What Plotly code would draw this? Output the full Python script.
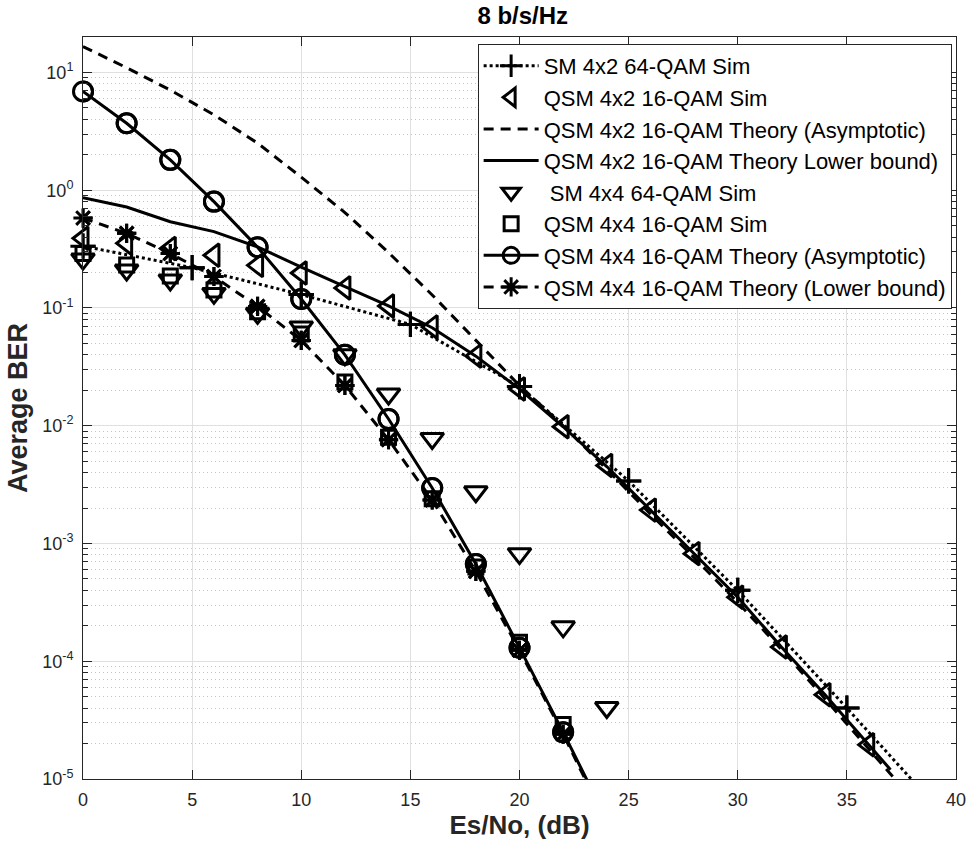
import plotly.graph_objects as go

# ---- data -------------------------------------------------------------
snr_5db = [0, 5, 10, 15, 20, 25, 30, 35, 40]
sm42_sim = [0.335, 0.22, 0.13, 0.0725, 0.0215, 3.4e-3, 4.0e-4, 4.0e-5, 3.8e-6]

snr_qsm42_sim = [0, 2, 4, 6, 8, 10, 12, 14, 16, 18, 20, 22, 24, 26, 28, 30, 32, 34, 36]
qsm42_sim = [0.39, 0.355, 0.32, 0.28, 0.23, 0.198, 0.148, 0.104, 0.069, 0.039,
             0.0205, 0.0098, 4.6e-3, 1.92e-3, 8.2e-4, 3.5e-4, 1.32e-4, 5.2e-5, 1.95e-5]

snr_qsm42_asym = [0, 2, 4, 6, 8, 10, 12, 14, 16, 18, 20, 22, 24, 26, 28, 30, 32, 34, 36, 38]
qsm42_asym = [16.6, 10.96, 7.08, 4.37, 2.51, 1.29, 0.646, 0.295, 0.129, 0.0537,
              0.0219, 0.0100, 4.27e-3, 1.78e-3, 7.59e-4, 3.16e-4, 1.26e-4, 4.79e-5, 1.78e-5, 6.76e-6]

snr_qsm42_lb = [0, 2, 4, 6, 8, 10, 12, 14, 16, 18, 20, 22, 24, 26, 28, 30, 32, 34, 36, 37]
qsm42_lb = [0.865, 0.72, 0.54, 0.445, 0.33, 0.222, 0.152, 0.104, 0.068, 0.039,
            0.0205, 0.0098, 4.5e-3, 1.92e-3, 8.2e-4, 3.5e-4, 1.32e-4, 5.2e-5, 1.95e-5, 1.2e-5]

snr_sm44 = [0, 2, 4, 6, 8, 10, 12, 14, 16, 18, 20, 22, 24]
sm44_sim = [0.26, 0.21, 0.173, 0.133, 0.090, 0.069, 0.040, 0.0186, 7.8e-3, 2.75e-3,
            8.2e-4, 1.96e-4, 4.05e-5]

snr_qsm44_sim = [0, 2, 4, 6, 8, 10, 12, 14, 16, 18, 20, 22]
qsm44_sim = [0.29, 0.232, 0.187, 0.142, 0.093, 0.06, 0.0235, 8.0e-3, 2.4e-3, 6.3e-4,
             1.45e-4, 2.9e-5]

snr_qsm44_th = [0, 2, 4, 6, 8, 10, 12, 14, 16, 18, 20, 22, 24]
qsm44_asym = [6.9, 3.7, 1.81, 0.80, 0.328, 0.119, 0.040, 0.0114, 2.96e-3, 6.7e-4,
              1.3e-4, 2.5e-5, 4.5e-6]
qsm44_lb = [0.58, 0.43, 0.29, 0.185, 0.103, 0.053, 0.022, 7.6e-3, 2.34e-3, 5.8e-4,
            1.24e-4, 2.4e-5, 4.2e-6]

x_ticks = [0, 5, 10, 15, 20, 25, 30, 35, 40]
y_ticks = [1e-5, 1e-4, 1e-3, 1e-2, 1e-1, 1e0, 1e1]
y_ticktext = ["10<sup>-5</sup>", "10<sup>-4</sup>", "10<sup>-3</sup>", "10<sup>-2</sup>",
              "10<sup>-1</sup>", "10<sup>0</sup>", "10<sup>1</sup>"]
y_minor = [m * 10.0 ** k for k in range(-5, 1) for m in range(2, 10)]

X_RANGE = [0, 40]
Y_MIN = 1e-5

# ---- styling ----------------------------------------------------------
FONT = "Arial, 'Liberation Sans', Helvetica, sans-serif"
INK = "#262626"
LW = 3
DOT = "3px,3px"
DASH = "10px,7px"
MLW = 3


def mk(symbol, size):
    return dict(symbol=symbol, size=size, color="black",
                line=dict(color="black", width=MLW))


def visible(xs, ys):
    """Points that sit inside the axes box (markers are drawn unclipped)."""
    pts = [(a, b) for a, b in zip(xs, ys) if X_RANGE[0] <= a <= X_RANGE[1] and b >= Y_MIN]
    return [p[0] for p in pts], [p[1] for p in pts]


fig = go.Figure()


def add_line(xs, ys, name, dash, marker=None):
    fig.add_trace(go.Scatter(
        x=xs, y=ys, mode="lines+markers" if marker else "lines", name=name,
        line=dict(color="black", width=LW, dash=dash),
        marker=marker, cliponaxis=True))
    if marker:
        vx, vy = visible(xs, ys)
        fig.add_trace(go.Scatter(
            x=vx, y=vy, mode="markers", marker=marker, showlegend=False,
            cliponaxis=False, hoverinfo="skip"))


def add_markers(xs, ys, name, marker):
    fig.add_trace(go.Scatter(
        x=xs, y=ys, mode="markers", name=name, marker=marker, cliponaxis=False))


add_line(snr_5db, sm42_sim, "SM 4x2 64-QAM Sim", DOT, mk("cross-thin-open", 18))
add_markers(snr_qsm42_sim, qsm42_sim, "QSM 4x2 16-QAM Sim", mk("triangle-left-open", 20))
add_line(snr_qsm42_asym, qsm42_asym, "QSM 4x2 16-QAM Theory (Asymptotic)", DASH)
add_line(snr_qsm42_lb, qsm42_lb, "QSM 4x2 16-QAM Theory Lower bound)", "solid")
add_markers(snr_sm44, sm44_sim, " SM 4x4 64-QAM Sim", mk("triangle-down-open", 20))
add_markers(snr_qsm44_sim, qsm44_sim, "QSM 4x4 16-QAM Sim", mk("square-open", 14))
add_line(snr_qsm44_th, qsm44_asym, "QSM 4x4 16-QAM Theory (Asymptotic)", "solid",
         mk("circle-open", 19))
add_line(snr_qsm44_th, qsm44_lb, "QSM 4x4 16-QAM Theory (Lower bound)", DASH,
         mk("asterisk-open", 16))

axis_common = dict(
    showline=True, linecolor=INK, linewidth=1, mirror="ticks",
    ticks="inside", tickcolor=INK, tickwidth=1,
    tickfont=dict(family=FONT, size=18, color=INK),
    zeroline=False, showgrid=True, gridcolor="#e0e0e0", gridwidth=1,
)

fig.update_layout(
    width=978, height=851, autosize=False,
    margin=dict(l=83, r=16, t=37, b=72, pad=0),
    paper_bgcolor="white", plot_bgcolor="white",
    font=dict(family=FONT, color=INK),
    title=dict(text="<b>8 b/s/Hz</b>", x=0.5345, xanchor="center",
               y=0.982, yanchor="middle",
               font=dict(family=FONT, size=24, color="black")),
    showlegend=True,
    legend=dict(
        x=0.995, xanchor="right", y=0.9906, yanchor="top",
        bgcolor="white", bordercolor=INK, borderwidth=1,
        font=dict(family=FONT, size=22, color="black"),
        itemwidth=55, tracegroupgap=0,
    ),
    xaxis=dict(
        axis_common, range=X_RANGE, tickmode="array", tickvals=x_ticks,
        ticklen=9, ticklabelstandoff=4,
        title=dict(text="<b>Es/No, (dB)</b>", standoff=6,
                   font=dict(family=FONT, size=26, color=INK)),
    ),
    yaxis=dict(
        axis_common, type="log", range=[-5, 1.301],
        tickmode="array", tickvals=y_ticks, ticktext=y_ticktext,
        ticklen=9, ticklabelstandoff=5,
        minor=dict(tickmode="array", tickvals=y_minor, ticks="inside",
                   ticklen=5, tickcolor=INK, showgrid=True,
                   gridcolor="#c4c4c4", griddash="1px,3px", gridwidth=1),
        title=dict(text="<b>Average BER</b>", standoff=6,
                   font=dict(family=FONT, size=27, color=INK)),
    ),
)

fig.write_html("out.html")
